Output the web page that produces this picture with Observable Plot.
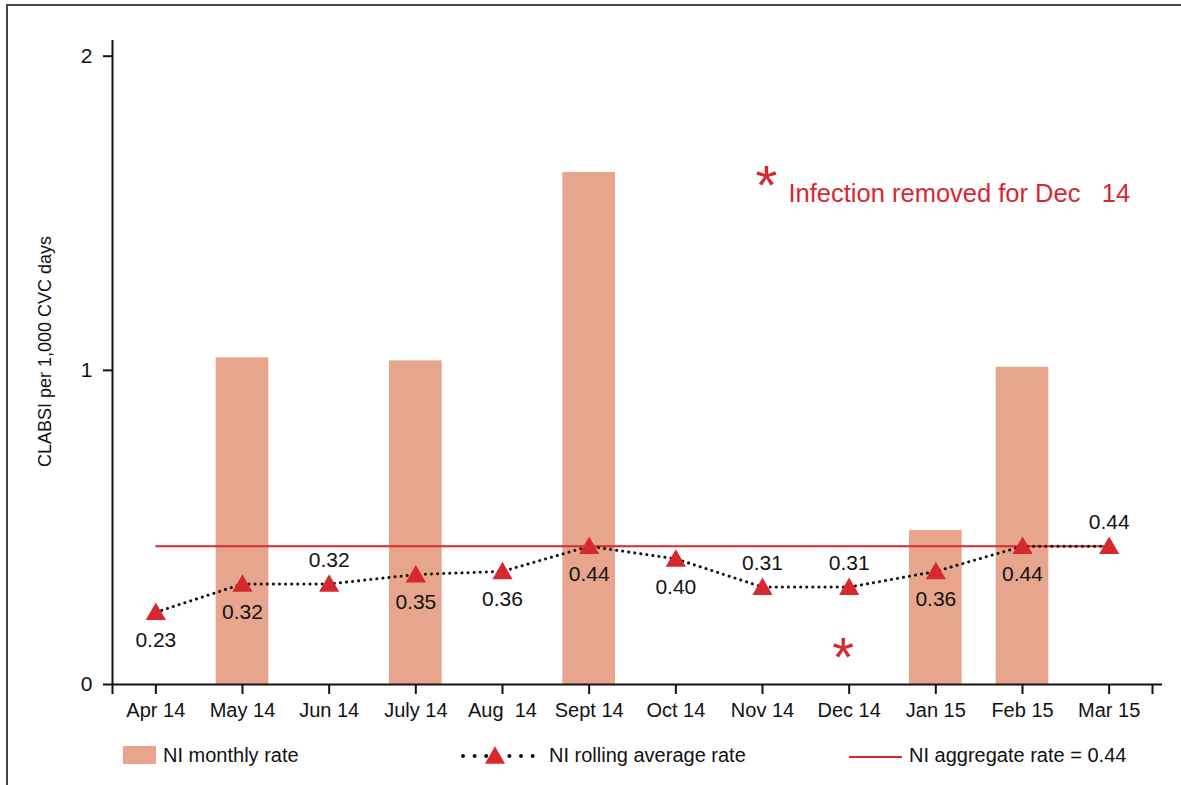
<!DOCTYPE html>
<html>
<head>
<meta charset="utf-8">
<script src="https://cdn.jsdelivr.net/npm/d3@7"></script>
<script src="https://cdn.jsdelivr.net/npm/@observablehq/plot@0.6"></script>
<style>
  body { margin: 0; background: #fff; font-family: "Liberation Sans", Arial, Helvetica, sans-serif; }
  #wrap { position: relative; width: 1181px; height: 785px; overflow: hidden; background: #fff; }
  #frame { position: absolute; left: 6px; top: 4px; width: 1190px; height: 800px; border-left: 2px solid #444; border-top: 2px solid #444; box-sizing: border-box; }
  #chart { position: absolute; left: 0; top: 0; }
  .lt { position: absolute; top: 744px; font-size: 20px; line-height: 22px; color: #111; white-space: pre; }
  .abs { position: absolute; }
</style>
</head>
<body>
<div id="wrap">
  <div id="frame"></div>
  <div id="chart"></div>
  <div id="legend"></div>
</div>
<script>
// ---- data ----
const months = ["Apr 14", "May 14", "Jun 14", "July 14", "Aug\u00a0 14", "Sept 14", "Oct 14", "Nov 14", "Dec 14", "Jan 15", "Feb 15", "Mar 15"];
const monthlyRate = [0, 1.04, 0, 1.03, 0, 1.63, 0, 0, 0, 0.49, 1.01, 0];
const rollingAvg = [0.23, 0.32, 0.32, 0.35, 0.36, 0.44, 0.40, 0.31, 0.31, 0.36, 0.44, 0.44];
const aggregateRate = 0.44;
const labelsAbove = ["Jun 14", "Nov 14", "Dec 14", "Mar 15"];
const removedInfection = [{ month: "Dec 14", rate: 0.11 }];
const yTicks = [0, 1, 2];
const legendLabels = ["NI monthly rate", "NI rolling average rate", "NI aggregate rate = 0.44"];
const annotationText = "Infection removed for Dec\u00a0\u00a0 14";

const RED = "#d7282f";
const BAR = "#e8a58e";

const table = months.map((m, i) => ({ i, month: m, rate: monthlyRate[i], avg: rollingAvg[i] }));
const fmt = d3.format(".2f");

const chart = Plot.plot({
  width: 1181,
  height: 730,
  marginLeft: 112,
  marginRight: 19,
  marginTop: 40,
  marginBottom: 46,
  style: { fontFamily: '"Liberation Sans", Arial, Helvetica, sans-serif', fontSize: "19px", color: "#111", background: "transparent", overflow: "visible" },
  x: { type: "linear", domain: [-0.5, months.length - 0.5], range: [112, 1152] },
  y: { domain: [0, 2.05] },
  marks: [
    Plot.rect(table.filter(d => d.rate > 0), {
      x1: d => d.i - 0.5, x2: d => d.i + 0.5, y1: 0, y2: "rate",
      fill: BAR, insetLeft: 17, insetRight: 17
    }),
    Plot.ruleY([aggregateRate], { x1: 0, x2: months.length - 1, stroke: RED, strokeWidth: 2 }),
    Plot.line(table, { x: "i", y: "avg", stroke: "#111", strokeWidth: 3, strokeDasharray: "0.1 6", strokeLinecap: "round" }),
    Plot.dot(table, { x: "i", y: "avg", symbol: "triangle", r: 7.5, fill: RED, stroke: null, dy: 2 }),
    Plot.text(table.filter(d => !labelsAbove.includes(d.month)), { x: "i", y: "avg", text: d => fmt(d.avg), dy: 28, fontSize: 21, fill: "#111" }),
    Plot.text(table.filter(d => labelsAbove.includes(d.month)), { x: "i", y: "avg", text: d => fmt(d.avg), dy: -24, fontSize: 21, fill: "#111" }),
    Plot.text(removedInfection, { x: d => months.indexOf(d.month), y: "rate", text: () => "*", fontSize: 56, fill: RED, dx: -6, dy: 8 }),
    Plot.text(["*"], { frameAnchor: "top-left", text: d => d, dx: 654, dy: 146, fontSize: 56, fill: RED, textAnchor: "middle", lineAnchor: "middle" }),
    Plot.text([annotationText], { frameAnchor: "top-left", text: d => d, dx: 676, dy: 153, fontSize: 25.5, fill: RED, textAnchor: "start", lineAnchor: "middle" }),
    Plot.text(["CLABSI per 1,000 CVC days"], { frameAnchor: "left", text: d => d, rotate: -90, dx: -67, dy: -11, fontSize: 18, fill: "#111", textAnchor: "middle", lineAnchor: "middle" }),
    Plot.ruleY([0], { stroke: "#111", strokeWidth: 2 }),
    Plot.ruleX([-0.5], { stroke: "#111", strokeWidth: 2 }),
    Plot.axisY({ ticks: yTicks, tickFormat: d => String(d), tickSize: 9, tickPadding: 11, fontSize: 21, strokeWidth: 2, label: null }),
    Plot.axisX({
      ticks: [-0.5, ...months.map((m, i) => i), months.length - 0.5],
      tickFormat: d => Number.isInteger(d) ? months[d] : "",
      tickSize: 10, tickPadding: 8, fontSize: 20, strokeWidth: 2, label: null
    })
  ]
});
document.getElementById("chart").appendChild(chart);

// ---- legend (below the SVG) ----
const lg = document.getElementById("legend");
lg.innerHTML = `
  <div class="abs" style="left:123px;top:746px;width:33px;height:18px;background:${BAR}"></div>
  <div class="lt" style="left:163px">${legendLabels[0]}</div>
  <svg class="abs" style="left:455px;top:740px" width="90" height="30">
    <line x1="8" y1="16" x2="78" y2="16" stroke="#111" stroke-width="4" stroke-linecap="round" stroke-dasharray="0 11.6"/>
    <path d="${d3.symbol(d3.symbolTriangle, 176)()}" transform="translate(40,18)" fill="${RED}"/>
  </svg>
  <div class="lt" style="left:549px">${legendLabels[1]}</div>
  <div class="abs" style="left:849px;top:756px;width:53px;height:2px;background:${RED}"></div>
  <div class="lt" style="left:909px">${legendLabels[2]}</div>
`;
</script>
</body>
</html>
